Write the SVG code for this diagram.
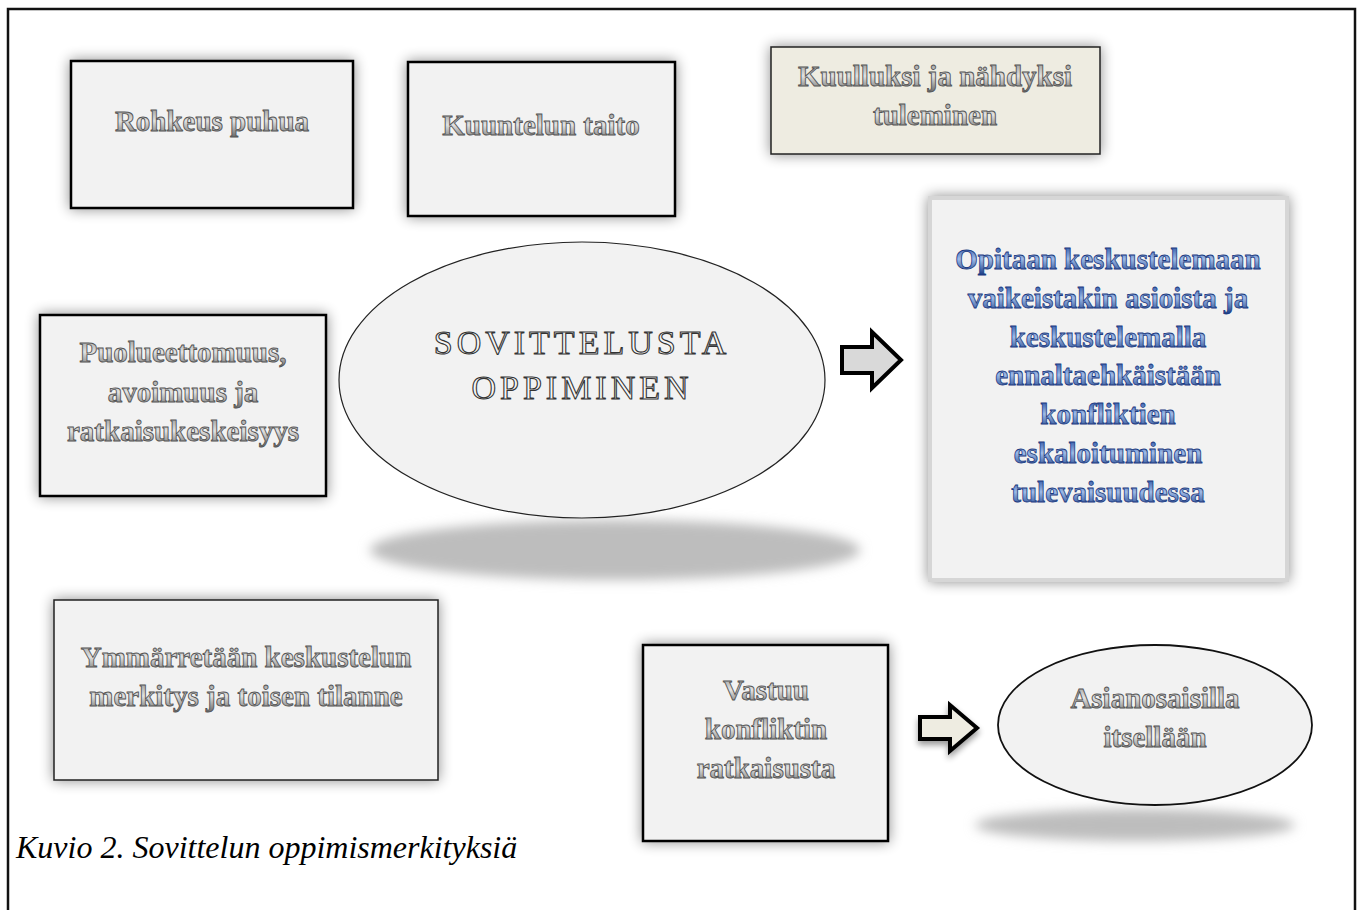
<svg xmlns="http://www.w3.org/2000/svg" width="1362" height="910" viewBox="0 0 1362 910">
<defs>
<linearGradient id="gg" x1="0" y1="0" x2="0" y2="1">
<stop offset="0" stop-color="#8e8e8e"/><stop offset="0.5" stop-color="#e2e2e2"/><stop offset="1" stop-color="#6a6a6a"/>
</linearGradient>
<linearGradient id="bg" x1="0" y1="0" x2="0" y2="1">
<stop offset="0" stop-color="#16409a"/><stop offset="0.5" stop-color="#9fbbe8"/><stop offset="1" stop-color="#163a86"/>
</linearGradient>
<filter id="glow" x="-20%" y="-20%" width="140%" height="140%">
<feGaussianBlur in="SourceAlpha" stdDeviation="7"/>
<feComponentTransfer><feFuncA type="linear" slope="0.45"/></feComponentTransfer>
<feMerge><feMergeNode/><feMergeNode in="SourceGraphic"/></feMerge>
</filter>
<filter id="blur" x="-20%" y="-100%" width="140%" height="300%">
<feGaussianBlur stdDeviation="6"/>
</filter>
<filter id="ashadow" x="-30%" y="-30%" width="160%" height="160%">
<feGaussianBlur in="SourceAlpha" stdDeviation="3"/>
<feOffset dx="0" dy="4"/>
<feComponentTransfer><feFuncA type="linear" slope="0.4"/></feComponentTransfer>
<feMerge><feMergeNode/><feMergeNode in="SourceGraphic"/></feMerge>
</filter>
</defs>
<style>
.box{fill:#f2f2f2;stroke:#000;stroke-width:2.5}
.t{font-family:"Liberation Serif","Times New Roman",serif;font-weight:bold;font-size:29px;text-anchor:middle;fill:url(#gg);stroke:#555;stroke-width:0.9}
.tb{font-family:"Liberation Serif","Times New Roman",serif;font-weight:bold;font-size:29px;text-anchor:middle;fill:url(#bg);stroke:#1c3a80;stroke-width:0.8}
.te{font-family:"Liberation Serif","Times New Roman",serif;font-size:34px;text-anchor:middle;fill:#f6f6f6;stroke:#333;stroke-width:1.1;letter-spacing:4px}
.arr{stroke:#000;stroke-width:4;stroke-linejoin:miter}
.cap{font-family:"Liberation Serif","Times New Roman",serif;font-style:italic;font-size:32px;fill:#000}
</style>
<rect width="1362" height="910" fill="#fff"/>
<path d="M8,912 V9 H1355 V912" fill="none" stroke="#111" stroke-width="2.5"/>

<g id="rohkeus">
<rect class="box" x="71" y="61" width="282" height="147" filter="url(#glow)"/>
<text class="t" x="212" y="131">Rohkeus puhua</text>
</g>

<g id="kuuntelun">
<rect class="box" x="408" y="62" width="267" height="154" filter="url(#glow)"/>
<text class="t" x="541" y="135">Kuuntelun taito</text>
</g>

<g id="kuulluksi">
<rect x="771" y="47" width="329" height="107" fill="#eeece1" stroke="#222" stroke-width="1.5" filter="url(#glow)"/>
<text class="t" x="935" y="86">Kuulluksi ja nähdyksi</text>
<text class="t" x="935" y="125">tuleminen</text>
</g>

<g id="sovittelusta">
<ellipse cx="615" cy="550" rx="245" ry="30" fill="#bdbdbd" filter="url(#blur)"/>
<ellipse cx="582" cy="380" rx="243" ry="138" fill="#f2f2f2" stroke="#222" stroke-width="1.2"/>
<text class="te" x="582" y="354">SOVITTELUSTA</text>
<text class="te" x="582" y="399">OPPIMINEN</text>
</g>

<g id="opitaan">
<rect x="930" y="198" width="357" height="382" fill="#f2f2f2" stroke="#d6d6d6" stroke-width="4" filter="url(#glow)"/>
<text class="tb" x="1108" y="269">Opitaan keskustelemaan</text>
<text class="tb" x="1108" y="308">vaikeistakin asioista ja</text>
<text class="tb" x="1108" y="347">keskustelemalla</text>
<text class="tb" x="1108" y="385">ennaltaehkäistään</text>
<text class="tb" x="1108" y="424">konfliktien</text>
<text class="tb" x="1108" y="463">eskaloituminen</text>
<text class="tb" x="1108" y="502">tulevaisuudessa</text>
</g>

<g id="puolueettomuus">
<rect class="box" x="40" y="315" width="286" height="181" filter="url(#glow)"/>
<text class="t" x="183" y="362">Puolueettomuus,</text>
<text class="t" x="183" y="402">avoimuus ja</text>
<text class="t" x="183" y="441">ratkaisukeskeisyys</text>
</g>

<g id="ymmarretaan">
<rect x="54" y="600" width="384" height="180" fill="#f2f2f2" stroke="#222" stroke-width="1.5" filter="url(#glow)"/>
<text class="t" x="246" y="667">Ymmärretään keskustelun</text>
<text class="t" x="246" y="706">merkitys ja toisen tilanne</text>
</g>

<g id="vastuu">
<rect class="box" x="643" y="645" width="245" height="196" filter="url(#glow)"/>
<text class="t" x="766" y="700">Vastuu</text>
<text class="t" x="766" y="739">konfliktin</text>
<text class="t" x="766" y="778">ratkaisusta</text>
</g>

<g id="asianosaisilla">
<ellipse cx="1135" cy="825" rx="160" ry="16" fill="#bdbdbd" filter="url(#blur)"/>
<ellipse cx="1155" cy="725" rx="157" ry="80" fill="#f2f2f2" stroke="#111" stroke-width="1.8"/>
<text class="t" x="1155" y="708">Asianosaisilla</text>
<text class="t" x="1155" y="747">itsellään</text>
</g>

<g id="connectors">
<path class="arr" d="M842,347 H872 V332 L901,360 L872,388 V373 H842 Z" fill="#d9d9d9"/>
<path class="arr" d="M920,717 H950 V705 L977,728 L950,751 V739 H920 Z" fill="#eeece1" filter="url(#ashadow)"/>
</g>

<text class="cap" x="16" y="858">Kuvio 2. Sovittelun oppimismerkityksiä</text>
</svg>
